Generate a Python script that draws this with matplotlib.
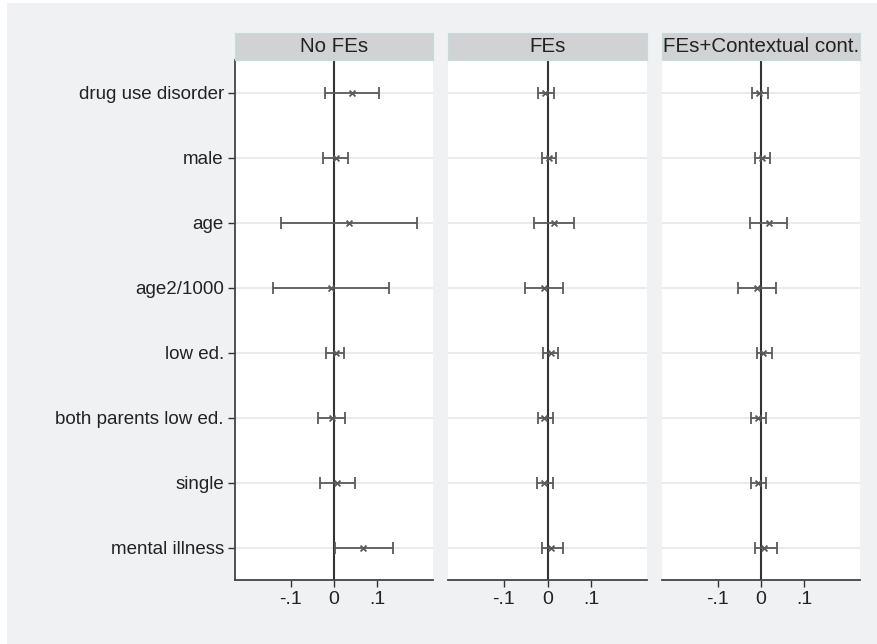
import numpy as np
import matplotlib
matplotlib.use("Agg")
import matplotlib.pyplot as plt
from matplotlib.patches import Rectangle

plt.rcParams['font.family'] = ['Liberation Sans', 'DejaVu Sans']

variables = ["drug use disorder", "male", "age", "age2/1000", "low ed.",
             "both parents low ed.", "single", "mental illness"]
panels = ["No FEs", "FEs", "FEs+Contextual cont."]

# point estimates and confidence bounds, one list per panel
est_nofe = [0.041, 0.004, 0.035, -0.008, 0.005, -0.005, 0.006, 0.067]
lo_nofe = [-0.021, -0.025, -0.123, -0.141, -0.018, -0.038, -0.032, 0.002]
hi_nofe = [0.103, 0.033, 0.192, 0.126, 0.024, 0.025, 0.049, 0.135]

est_fe = [-0.005, 0.003, 0.015, -0.007, 0.007, -0.007, -0.008, 0.009]
lo_fe = [-0.021, -0.012, -0.031, -0.051, -0.010, -0.021, -0.024, -0.013]
hi_fe = [0.015, 0.020, 0.061, 0.036, 0.025, 0.012, 0.012, 0.035]

est_ctx = [-0.005, 0.002, 0.018, -0.009, 0.005, -0.007, -0.007, 0.008]
lo_ctx = [-0.021, -0.014, -0.026, -0.052, -0.009, -0.024, -0.023, -0.014]
hi_ctx = [0.015, 0.020, 0.061, 0.034, 0.026, 0.012, 0.012, 0.036]

xticks = [-0.1, 0, 0.1]
xticklabels = ["-.1", "0", ".1"]

W, H = 877, 644
fig = plt.figure(figsize=(W / 100, H / 100), dpi=100, facecolor="white")
fig.patches.append(Rectangle((7 / W, 0), 1 - 7 / W, 1 - 3 / H, transform=fig.transFigure,
                             facecolor="#f0f1f3", edgecolor="none", zorder=-10))

def px_box(x0, x1, y0, y1):
    return [x0 / W, 1 - y1 / H, (x1 - x0) / W, (y1 - y0) / H]

panel_x = [(235, 433), (448, 647), (662, 860)]
data = [(est_nofe, lo_nofe, hi_nofe), (est_fe, lo_fe, hi_fe), (est_ctx, lo_ctx, hi_ctx)]
ypos = np.arange(1, len(variables) + 1)
ecol = "#5a5a5a"

for i, (title, (x0, x1), (est, lo, hi)) in enumerate(zip(panels, panel_x, data)):
    ax = fig.add_axes(px_box(x0, x1, 60, 580))
    ax.set_facecolor("white")
    est = np.array(est)
    lo = np.array(lo)
    hi = np.array(hi)
    for y in ypos:
        ax.axhline(y, color="#e8e8e8", lw=1.2, zorder=1)
    ax.axvline(0, color="#333333", lw=1.5, zorder=2)
    ax.errorbar(est, ypos, xerr=[est - lo, hi - est], fmt="none", ecolor=ecol,
                elinewidth=1.3, capsize=4, capthick=1.3, zorder=3)
    ax.scatter(est, ypos, marker="x", s=18, color=ecol, linewidths=1.3, zorder=4)
    ax.set_xlim(-0.228, 0.228)
    ax.set_ylim(8.5, 0.5)
    ax.set_xticks(xticks)
    ax.set_xticklabels(xticklabels, fontsize=14, color="#222222")
    ax.tick_params(axis="x", direction="out", length=5, width=1, color="#333333", pad=3)
    for s in ["top", "right"]:
        ax.spines[s].set_visible(False)
    ax.spines["bottom"].set_color("#444444")
    ax.spines["bottom"].set_linewidth(1.3)
    if i == 0:
        ax.set_yticks(ypos)
        ax.set_yticklabels(variables, fontsize=13.5, color="#222222")
        ax.tick_params(axis="y", direction="out", length=5, width=1, color="#333333", pad=3)
        ax.spines["left"].set_color("#444444")
        ax.spines["left"].set_linewidth(1.3)
    else:
        ax.set_yticks([])
        ax.spines["left"].set_visible(False)

    sax = fig.add_axes(px_box(x0, x1, 33, 60))
    sax.set_facecolor("#d0d2d4")
    sax.set_xticks([])
    sax.set_yticks([])
    for s in sax.spines.values():
        s.set_color("#c5dbe0")
        s.set_linewidth(0.8)
    sax.text(0.5, 0.5, title, ha="center", va="center", fontsize=14.8, color="#222222",
             transform=sax.transAxes)

fig.savefig("out.png", dpi=100, facecolor=fig.get_facecolor())
